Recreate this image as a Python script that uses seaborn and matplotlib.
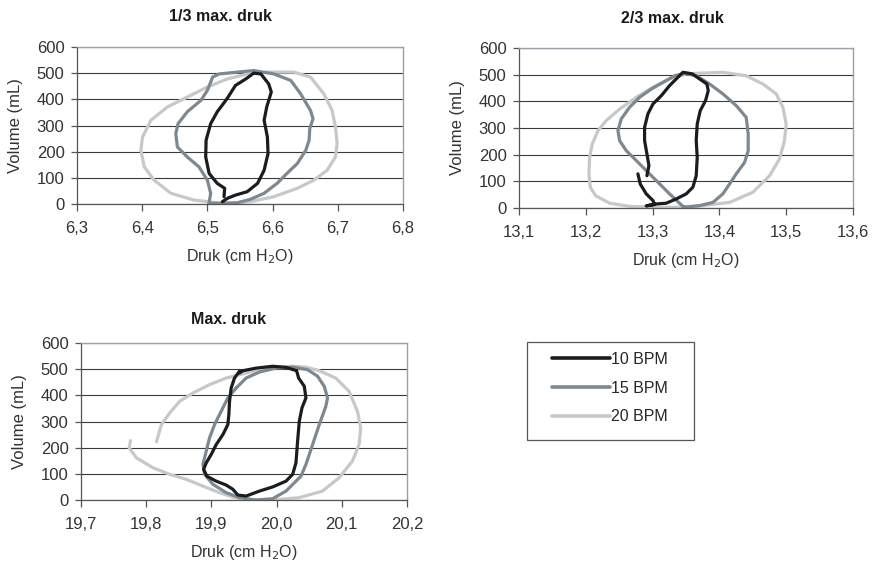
import numpy as np
import pandas as pd
import matplotlib
matplotlib.use("Agg")
import matplotlib.pyplot as plt
import seaborn as sns
from matplotlib.lines import Line2D
from matplotlib.patches import Rectangle

sns.set_theme(style="white")
plt.rcParams['font.family'] = ['Liberation Sans', 'DejaVu Sans']

bpm_labels = ["10 BPM", "15 BPM", "20 BPM"]
bpm_colors = {"10 BPM": "#1c1c1c", "15 BPM": "#7d8891", "20 BPM": "#c8c8c8"}

panel_titles = ["1/3 max. druk", "2/3 max. druk", "Max. druk"]
x_ticks_1 = [6.3, 6.4, 6.5, 6.6, 6.7, 6.8]
x_ticks_2 = [13.1, 13.2, 13.3, 13.4, 13.5, 13.6]
x_ticks_3 = [19.7, 19.8, 19.9, 20.0, 20.1, 20.2]
y_ticks = [0, 100, 200, 300, 400, 500, 600]

# ---- 1/3 max. druk ----
druk_1_10 = [6.5255, 6.5265, 6.515, 6.5026, 6.4974, 6.498, 6.505, 6.515, 6.530, 6.543, 6.559, 6.571,
             6.582, 6.594, 6.598, 6.591, 6.587, 6.592, 6.593, 6.587, 6.577, 6.561, 6.543, 6.531, 6.523]
vol_1_10 = [28, 60, 79, 117, 180, 244, 307, 352, 402, 453, 478, 500,
            497, 459, 428, 371, 320, 256, 193, 129, 79, 47, 34, 22, 9]

druk_1_15 = [6.5026, 6.505, 6.500, 6.487, 6.469, 6.454, 6.4515, 6.455, 6.469, 6.490, 6.500, 6.508, 6.518,
             6.546, 6.571, 6.602, 6.628, 6.643, 6.658, 6.662, 6.657, 6.656, 6.651, 6.638, 6.622, 6.607,
             6.587, 6.566, 6.546, 6.520, 6.5026]
vol_1_15 = [3, 41, 91, 142, 180, 218, 269, 307, 352, 396, 434, 485, 497,
            504, 510, 497, 472, 421, 358, 326, 288, 244, 206, 155, 117, 79,
            41, 18, 5, 3, 3]

druk_1_20 = [6.5204, 6.4796, 6.4439, 6.4184, 6.4031, 6.398, 6.4005, 6.4133, 6.4388, 6.4694, 6.500, 6.5306,
             6.5612, 6.5918, 6.6327, 6.6582, 6.6786, 6.6913, 6.6964, 6.699, 6.6964, 6.6837, 6.6633, 6.6378,
             6.602, 6.5663, 6.5306, 6.5204]
vol_1_20 = [3, 15, 41, 91, 142, 206, 256, 320, 371, 409, 447, 478,
            497, 504, 504, 485, 421, 358, 294, 231, 180, 129, 91, 60,
            28, 9, 0, 3]

# ---- 2/3 max. druk ----
druk_2_10 = [13.278, 13.2815, 13.2905, 13.3005, 13.303, 13.2905, 13.3055, 13.3204, 13.3354, 13.3504,
             13.3603, 13.3653, 13.3668, 13.3653, 13.3668, 13.3713, 13.3793, 13.3833, 13.3813, 13.3703,
             13.3594, 13.3454, 13.3354, 13.3254, 13.313, 13.3005, 13.293, 13.288, 13.288, 13.2915,
             13.2945, 13.2915]
vol_2_10 = [128, 90, 53, 28, 13, 8, 15, 18, 34, 53,
            78, 121, 190, 253, 315, 365, 403, 440, 465, 484,
            503, 509, 484, 459, 421, 390, 353, 303, 253, 203,
            159, 121]

druk_2_15 = [13.3454, 13.3254, 13.3055, 13.2905, 13.2756, 13.2606, 13.2506, 13.2481, 13.2531, 13.2656,
             13.2805, 13.298, 13.3155, 13.3329, 13.3479, 13.3653, 13.3853, 13.4052, 13.4252, 13.4401,
             13.4431, 13.4431, 13.4377, 13.4252, 13.4152, 13.4052, 13.3903, 13.3703, 13.3504, 13.3454]
vol_2_15 = [6, 53, 103, 140, 178, 215, 253, 290, 334, 378,
            415, 446, 471, 496, 505, 496, 465, 428, 384, 340,
            278, 215, 171, 128, 90, 53, 21, 9, 4, 6]

druk_2_20 = [13.3504, 13.3753, 13.4152, 13.4501, 13.4751, 13.49, 13.4975, 13.5, 13.495, 13.485,
             13.4651, 13.4401, 13.4052, 13.3753, 13.3504, 13.3254, 13.3005, 13.2756, 13.2506, 13.2307,
             13.2182, 13.2097, 13.2057, 13.2047, 13.2067, 13.2147, 13.2357, 13.2656, 13.3055, 13.3504]
vol_2_20 = [3, 9, 21, 59, 121, 184, 253, 315, 378, 428,
            465, 496, 509, 506, 503, 484, 453, 415, 371, 328,
            290, 240, 190, 128, 78, 46, 18, 6, 3, 3]

# ---- Max. druk ----
druk_3_10 = [19.943, 19.9354, 19.9303, 19.9278, 19.9268, 19.9252, 19.9176, 19.9074, 19.8997, 19.8921,
             19.888, 19.8931, 19.9074, 19.9227, 19.9329, 19.9405, 19.9532, 19.9736, 19.994, 20.0144,
             20.0246, 20.0297, 20.0322, 20.0348, 20.0389, 20.045, 20.0424, 20.0338, 20.0307, 20.0144,
             19.994, 19.9685, 19.9482, 19.943]
vol_3_10 = [492, 466, 428, 377, 327, 288, 250, 212, 174, 142,
            117, 91, 72, 57, 41, 19, 15, 34, 50, 72,
            98, 142, 225, 301, 352, 390, 435, 466, 494, 507,
            511, 504, 494, 485]

druk_3_15 = [19.938, 19.9252, 19.915, 19.9048, 19.8972, 19.8921, 19.887, 19.8896, 19.9023, 19.9227,
             19.943, 19.9685, 19.994, 20.0144, 20.0297, 20.0373, 20.045, 20.0552, 20.0654, 20.0755,
             20.0781, 20.073, 20.0628, 20.0475, 20.0246, 19.9991, 19.9736, 19.9532, 19.938]
vol_3_15 = [428, 390, 339, 288, 238, 187, 136, 98, 60, 28,
            9, 0, 5, 34, 72, 91, 136, 212, 288, 358,
            390, 435, 473, 498, 508, 504, 489, 466, 428]

druk_3_20 = [19.7759, 19.7739, 19.7851, 19.8106, 19.8361, 19.8615, 19.887, 19.9125, 19.9329, 19.9532,
             19.994, 20.0348, 20.0704, 20.0959, 20.1163, 20.1265, 20.129, 20.124, 20.1112, 20.0908,
             20.0654, 20.045, 20.0246, 19.9991, 19.9736, 19.9482, 19.9227, 19.8972, 19.8717, 19.8513,
             19.8361, 19.8233, 19.8157]
vol_3_20 = [227, 199, 161, 123, 98, 79, 53, 28, 11, 0,
            0, 9, 34, 85, 149, 212, 276, 339, 415, 466,
            494, 508, 511, 507, 498, 482, 466, 441, 409, 377,
            333, 288, 222]


def make_frame(d10, v10, d15, v15, d20, v20):
    parts = []
    for lab, d, v in zip(bpm_labels, [d10, d15, d20], [v10, v15, v20]):
        parts.append(pd.DataFrame({"druk": d, "volume": v, "bpm": lab}))
    return pd.concat(parts, ignore_index=True)


panels = [
    (make_frame(druk_1_10, vol_1_10, druk_1_15, vol_1_15, druk_1_20, vol_1_20), x_ticks_1),
    (make_frame(druk_2_10, vol_2_10, druk_2_15, vol_2_15, druk_2_20, vol_2_20), x_ticks_2),
    (make_frame(druk_3_10, vol_3_10, druk_3_15, vol_3_15, druk_3_20, vol_3_20), x_ticks_3),
]

fig = plt.figure(figsize=(8.8, 5.66), dpi=100)
W, H = 880, 566
# axes boxes in pixels: left, top, right, bottom
boxes = [(77, 47, 403, 204), (519, 48, 853, 208), (81, 343, 407, 500)]
title_pos = [(0.44, 1.195), (0.458, 1.183), (0.454, 1.152)]

for (df, xt), box, title, tp in zip(panels, boxes, panel_titles, title_pos):
    l, t, r, b = box
    ax = fig.add_axes([l / W, 1 - b / H, (r - l) / W, (b - t) / H])
    sns.lineplot(data=df, x="druk", y="volume", hue="bpm", hue_order=bpm_labels[::-1],
                 palette=bpm_colors, sort=False, estimator=None, lw=2.3,
                 legend=False, ax=ax)
    ax.set_xlim(xt[0], xt[-1])
    ax.set_ylim(0, 600)
    ax.set_xticks(xt)
    ax.set_xticklabels([f"{v:.1f}".replace(".", ",") for v in xt])
    ax.set_yticks(y_ticks)
    ax.yaxis.grid(True, color="#3a3a3a", lw=0.8)
    ax.set_axisbelow(True)
    for s in ["top", "right"]:
        ax.spines[s].set_color("#9aa1a8")
        ax.spines[s].set_linewidth(1.0)
    for s in ["left", "bottom"]:
        ax.spines[s].set_color("#555555")
        ax.spines[s].set_linewidth(0.9)
    ax.tick_params(axis="x", direction="out", length=5, width=0.9, color="#555555",
                   pad=7, labelsize=12, labelcolor="#333333", bottom=True)
    ax.tick_params(axis="y", direction="out", length=4, width=0.9, color="#555555",
                   pad=5, labelsize=12, labelcolor="#333333", left=True)
    ax.set_xlabel("Druk (cm H$_2$O)", fontsize=11.5, color="#333333", labelpad=8)
    ax.set_ylabel("Volume (mL)", fontsize=12, color="#333333", labelpad=10)
    ax.text(tp[0], tp[1], title, transform=ax.transAxes, ha="center", va="center",
            fontsize=11.5, fontweight="bold", color="#1a1a1a")

handles = [Line2D([], [], color=bpm_colors[lab], lw=2.6) for lab in bpm_labels]
fig.legend(handles, bpm_labels, loc="upper left", bbox_to_anchor=(552 / W, 1 - 352 / H),
           frameon=False, handlelength=3.6, handletextpad=0.1, labelspacing=0.85,
           borderpad=0, borderaxespad=0, prop={"size": 11.5})
fig.patches.append(Rectangle((527 / W, 1 - 440 / H), 167 / W, 98 / H, fill=False,
                             edgecolor="#555555", lw=0.9, transform=fig.transFigure))

fig.savefig("out.png", dpi=100)
